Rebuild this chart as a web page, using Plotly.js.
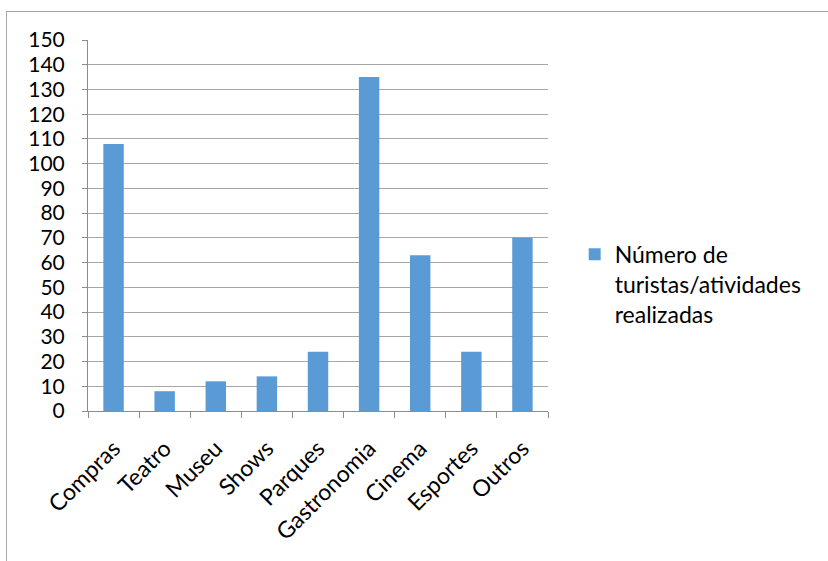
<!DOCTYPE html>
<html>
<head>
<meta charset="utf-8">
<script src="https://cdn.plot.ly/plotly-3.0.1.min.js"></script>
<style>
  html, body { margin: 0; padding: 0; background: #ffffff; overflow: hidden; }
  #frame { position: absolute; left: 6px; top: 11px; width: 900px; height: 700px; border: 1px solid #a6a6a6; box-sizing: border-box; }
  #chart { position: absolute; left: 0; top: 0; width: 828px; height: 561px; }
</style>
</head>
<body>
<div id="frame"></div>
<div id="chart"></div>
<script>
const categories = ["Compras", "Teatro", "Museu", "Shows", "Parques", "Gastronomia", "Cinema", "Esportes", "Outros"];
const values = [108, 8, 12, 14, 24, 135, 63, 24, 70];
const seriesName = "Número de<br>turistas/atividades<br>realizadas";
const yTicks = [0, 10, 20, 30, 40, 50, 60, 70, 80, 90, 100, 110, 120, 130, 140, 150];

const fontFam = "Lato, 'Open Sans', sans-serif";

const trace = {
  type: "bar",
  x: categories,
  y: values,
  name: seriesName,
  marker: { color: "#5b9bd5", line: { width: 0 } },
  showlegend: true,
  hoverinfo: "x+y"
};

const layout = {
  width: 828,
  height: 561,
  margin: { l: 88, r: 280, t: 40, b: 150, pad: 0 },
  paper_bgcolor: "rgba(0,0,0,0)",
  plot_bgcolor: "rgba(0,0,0,0)",
  font: { family: fontFam, size: 22, color: "#000000" },
  bargap: 0.6,
  showlegend: true,
  xaxis: {
    type: "category",
    tickangle: -45,
    ticks: "outside",
    tickson: "boundaries",
    ticklen: 6,
    tickcolor: "#8c8c8c",
    showline: true,
    linecolor: "#8c8c8c",
    linewidth: 1,
    showgrid: false,
    ticklabelstandoff: 14,
    tickfont: { family: fontFam, size: 23, color: "#000000" },
    fixedrange: true
  },
  yaxis: {
    range: [0, 150],
    tickvals: yTicks,
    ticktext: yTicks.map(String),
    ticks: "outside",
    ticklen: 5,
    tickcolor: "#8c8c8c",
    showline: true,
    linecolor: "#8c8c8c",
    linewidth: 1,
    showgrid: true,
    gridcolor: "#a6a6a6",
    gridwidth: 1,
    zeroline: false,
    ticklabelstandoff: 13,
    tickfont: { family: fontFam, size: 21, color: "#000000" },
    fixedrange: true
  },
  legend: {
    x: 1.058,
    xanchor: "left",
    y: 0.48,
    yanchor: "top",
    valign: "top",
    font: { family: fontFam, size: 23, color: "#000000" },
    bgcolor: "rgba(0,0,0,0)",
    itemclick: false
  }
};

Plotly.newPlot("chart", [trace], layout, { displayModeBar: false, staticPlot: true });
</script>
</body>
</html>
